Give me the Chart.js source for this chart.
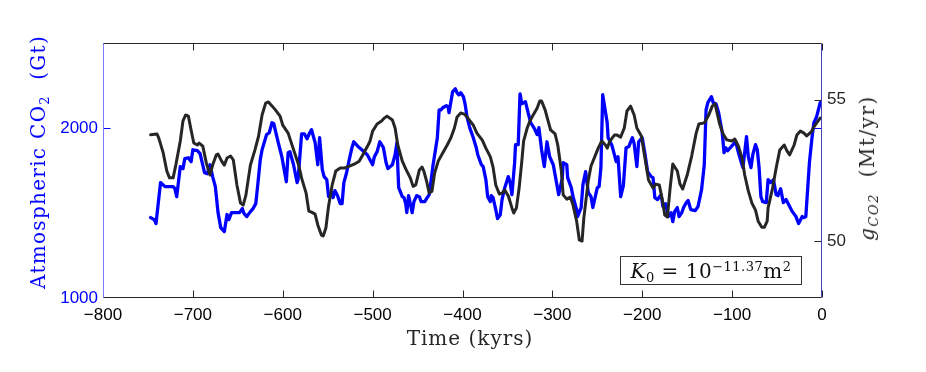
<!DOCTYPE html>
<html>
<head>
<meta charset="utf-8">
<script src="https://cdn.jsdelivr.net/npm/chart.js@4"></script>
<style>
  html, body { margin: 0; padding: 0; background: #fff; }
  #wrap { position: relative; width: 926px; height: 372px; }
  #chart { position: absolute; left: 0; top: 0; }
  .lbl {
    position: absolute;
    font-family: 'DejaVu Serif', 'Liberation Serif', serif;
    font-size: 20px;
    letter-spacing: 1px;
    white-space: nowrap;
    line-height: 1;
  }
  .lbl sub { font-size: 13px; vertical-align: -0.3em; line-height: 0; }
  .lbl sup { font-size: 13px; vertical-align: 0.55em; line-height: 0; }
  #ylab { color: #0000ff; left: 38px; top: 162px; transform: translate(-50%, -50%) rotate(-90deg); letter-spacing: 1.3px; }
  #y2lab { color: #262626; left: 867px; top: 168px; transform: translate(-50%, -50%) rotate(-90deg); letter-spacing: 1.5px; }
  #xlab { color: #262626; left: 470px; top: 338px; transform: translate(-50%, -50%); }
  #kbox {
    left: 620px; top: 256px; width: 182px; height: 29px;
    border: 1px solid #333; box-sizing: border-box;
    text-align: center; line-height: 29px;
    color: #111; letter-spacing: 0.5px;
  }
</style>
</head>
<body>
<div id="wrap">
  <canvas id="chart" width="926" height="372"></canvas>
  <div class="lbl" id="ylab">Atmospheric CO<sub>2</sub>&nbsp;&nbsp;(Gt)</div>
  <div class="lbl" id="y2lab"><i>g</i><sub><i>CO2</i></sub>&nbsp;&nbsp;(Mt/yr)</div>
  <div class="lbl" id="xlab">Time (kyrs)</div>
  <div class="lbl" id="kbox"><i>K</i><sub>0</sub> = 10<sup>&minus;11.37</sup>m<sup>2</sup></div>
</div>
<script>
/* Atmospheric CO2 (Gt) — blue, left axis. */
const timeCo2 = [
  -747, -743, -741, -736, -731, -722, -720, -718, -714, -711, -709, -705, -702, -700, -695, -692,
  -687, -684, -681, -678, -675, -672, -669, -665, -662, -660, -657, -648, -645, -643, -640, -636,
  -633, -630, -628, -625, -623, -618, -615, -612, -610, -605, -601, -596, -594, -592, -588, -584,
  -583, -579, -576, -573, -570, -568, -564, -561, -559, -556, -554, -551, -549, -545, -544, -542,
  -539, -536, -534, -532, -529, -526, -523, -521, -516, -512, -506, -503, -500, -498, -495, -492,
  -488, -485, -483, -478, -475, -473, -472, -471, -467, -465, -463, -462, -460, -456, -454, -451,
  -448, -446, -442, -440, -437, -433, -428, -426, -424, -422, -418, -416, -415, -411, -408, -406,
  -404, -402, -399, -397, -395, -392, -388, -385, -383, -379, -377, -374, -372, -369, -368, -366,
  -363, -361, -358, -356, -353, -349, -347, -345, -342, -341, -338, -336, -334, -330, -327, -324,
  -320, -317, -315, -312, -309, -306, -303, -299, -295, -293, -289, -288, -284, -283, -279, -277,
  -273, -272, -268, -266, -263, -260, -257, -255, -250, -248, -246, -244, -239, -238, -234, -231,
  -229, -227, -224, -221, -218, -215, -211, -209, -206, -204, -200, -197, -194, -190, -188, -186,
  -183, -179, -177, -174, -171, -168, -166, -164, -161, -159, -156, -154, -151, -149, -146, -141,
  -138, -134, -131, -129, -127, -123, -121, -118, -115, -111, -109, -107, -105, -101, -99, -96,
  -93, -90, -88, -84, -82, -79, -77, -74, -72, -70, -68, -66, -62, -60, -57, -54,
  -51, -49, -46, -43, -40, -37, -33, -29, -26, -22, -20, -18, -14, -11, -9, -6, -2,
];
const co2Gt = [
  1473, 1461, 1438, 1679, 1655, 1655, 1643, 1596, 1773, 1761, 1820, 1825, 1802, 1872, 1867, 1849,
  1737, 1731, 1784, 1714, 1655, 1502, 1414, 1391, 1491, 1461, 1502, 1502, 1526, 1496, 1479, 1508,
  1526, 1555, 1655, 1814, 1872, 1961, 1972, 2031, 2025, 1914, 1831, 1684, 1855, 1861, 1784, 1679,
  1696, 1966, 1966, 1937, 1972, 1990, 1914, 1784, 1943, 1755, 1714, 1696, 1596, 1620, 1590, 1632,
  1602, 1555, 1555, 1679, 1737, 1814, 1884, 1919, 1890, 1872, 1843, 1814, 1784, 1831, 1861, 1919,
  1884, 1796, 1761, 1784, 1843, 1914, 1773, 1649, 1596, 1590, 1549, 1502, 1602, 1502, 1567, 1602,
  1596, 1567, 1567, 1585, 1608, 1773, 1943, 2107, 2107, 2119, 2131, 2125, 2090, 2213, 2231, 2207,
  2195, 2207, 2184, 2137, 2066, 2002, 1943, 1890, 1843, 1784, 1773, 1696, 1596, 1567, 1602, 1590,
  1520, 1467, 1490, 1579, 1649, 1714, 1679, 1608, 1796, 1902, 1902, 2201, 2143, 2155, 2090, 2031,
  1996, 1961, 2002, 1872, 1773, 1919, 1831, 1784, 1667, 1608, 1702, 1796, 1784, 1708, 1649, 1596,
  1520, 1479, 1532, 1667, 1743, 1620, 1596, 1532, 1649, 1655, 1767, 2196, 2031, 1943, 1902, 1843,
  1802, 1831, 1596, 1661, 1884, 1890, 1943, 1908, 1773, 1919, 1943, 1849, 1743, 1714, 1708, 1590,
  1579, 1608, 1538, 1555, 1479, 1502, 1449, 1508, 1532, 1479, 1502, 1532, 1561, 1573, 1520, 1514,
  1538, 1637, 1784, 2107, 2149, 2184, 2149, 2143, 2090, 1972, 1855, 1884, 1866, 1890, 1902, 1919,
  1855, 1802, 1767, 1949, 1831, 1767, 1843, 1902, 1872, 1767, 1596, 1567, 1561, 1696, 1679, 1696,
  1608, 1602, 1643, 1561, 1579, 1549, 1508, 1479, 1438, 1479, 1473, 1479, 1796, 1949, 2031, 2066, 2149,
];

/* g_CO2 (Mt/yr) — dark grey, right axis. */
const timeG = [
  -747, -740, -738, -733, -729, -726, -722, -719, -714, -711, -708, -705, -702, -699, -695, -693,
  -689, -685, -681, -678, -674, -672, -668, -665, -662, -658, -655, -651, -647, -644, -641, -636,
  -631, -627, -623, -619, -616, -612, -608, -603, -600, -594, -590, -586, -582, -579, -574, -571,
  -568, -564, -561, -557, -555, -552, -549, -545, -541, -536, -531, -525, -520, -515, -511, -505,
  -503, -500, -495, -490, -487, -484, -478, -475, -472, -467, -463, -458, -455, -452, -448, -445,
  -443, -440, -437, -434, -431, -427, -422, -417, -413, -409, -406, -402, -398, -394, -388, -384,
  -378, -374, -369, -366, -363, -359, -356, -353, -349, -345, -343, -340, -337, -334, -332, -328,
  -325, -322, -317, -314, -312, -308, -305, -302, -297, -294, -290, -288, -284, -280, -277, -273,
  -270, -267, -265, -260, -257, -253, -249, -245, -241, -239, -236, -231, -228, -224, -220, -217,
  -213, -209, -206, -201, -197, -193, -188, -185, -181, -177, -175, -172, -169, -166, -161, -158,
  -155, -150, -145, -140, -137, -131, -126, -122, -119, -114, -110, -106, -100, -97, -93, -89,
  -86, -82, -78, -74, -71, -67, -64, -61, -60, -55, -51, -47, -42, -39, -36, -31,
  -28, -24, -20, -17, -12, -9, -6, -2,
];
const gCo2 = [
  53.76, 53.79, 53.65, 53.12, 52.48, 52.24, 52.24, 52.69, 53.54, 54.25, 54.46, 54.42, 53.93, 53.47, 53.40, 53.47,
  53.36, 52.76, 52.34, 52.69, 53.05, 53.08, 52.83, 52.69, 52.94, 53.01, 52.87, 51.99, 51.35, 51.28, 51.63, 52.69,
  53.22, 53.70, 54.46, 54.88, 54.92, 54.78, 54.63, 54.42, 54.10, 53.82, 53.43, 53.05, 52.66, 52.23, 51.70, 51.07,
  51.03, 50.96, 50.58, 50.22, 50.19, 50.47, 51.25, 51.99, 52.48, 52.59, 52.59, 52.66, 52.73, 52.83, 53.05, 53.40,
  53.53, 53.89, 54.14, 54.25, 54.35, 54.42, 54.28, 54.00, 53.40, 52.83, 52.55, 52.23, 51.94, 51.99, 52.52, 52.62,
  52.48, 52.13, 51.70, 51.77, 52.41, 52.83, 53.12, 53.40, 53.65, 54.00, 54.39, 54.53, 54.49, 54.35, 54.10, 53.82,
  53.57, 53.29, 52.98, 52.62, 51.99, 51.67, 51.70, 51.81, 51.60, 51.18, 51.00, 51.18, 51.88, 52.83, 53.54, 54.00,
  54.25, 54.42, 54.70, 54.95, 54.95, 54.63, 54.28, 53.93, 53.79, 53.40, 52.48, 51.64, 51.49, 51.56, 51.28, 50.71,
  50.05, 50.01, 50.82, 52.16, 52.66, 52.97, 53.29, 53.54, 53.40, 53.29, 53.54, 53.75, 53.75, 53.68, 54.00, 54.60,
  54.77, 54.46, 54.00, 53.72, 52.94, 52.16, 51.88, 52.02, 51.99, 51.35, 50.93, 50.86, 51.88, 52.73, 52.48, 52.02,
  51.85, 52.34, 53.01, 53.82, 54.14, 54.18, 54.46, 54.78, 54.85, 54.15, 53.79, 53.58, 53.54, 53.61, 53.36, 52.94,
  52.34, 51.78, 51.35, 51.10, 50.71, 50.50, 50.50, 50.71, 51.18, 51.88, 52.59, 53.22, 53.40, 53.19, 53.05, 53.40,
  53.75, 53.89, 53.82, 53.72, 53.86, 54.04, 54.18, 54.35,
];

/* Axis ranges and the ticks that carry labels. */
const timeRange = [-800, 0];
const co2Range = [1000, 2500];
const gRange = [48, 57];
const timeTicks = [-800, -700, -600, -500, -400, -300, -200, -100, 0];
const co2Ticks = [1000, 2000];
const gTicks = [50, 55];

const BLUE = '#0000ff';
const INK = '#262626';
const TICK_FONT = { family: "'Liberation Sans', Arial, sans-serif", size: 17 };

const pairs = (xs, ys) => xs.map((x, i) => ({ x, y: ys[i] }));
const keepTicks = (values) => (scale) => {
  scale.ticks = values.map((value) => ({ value }));
};
/* Plain numbers, no thousands separator, real minus sign. */
const plain = (v) => String(v).replace('-', '\u2212');

/* MATLAB-style frame: inward ticks, mirrored on the far side, coloured edges. */
const framePlugin = {
  id: 'frame',
  afterDraw(chart) {
    const { ctx, chartArea: a, scales } = chart;
    const L = Math.round(a.left) + 0.5;
    const R = Math.round(a.right) - 0.5;
    const T = Math.round(a.top) + 0.5;
    const B = Math.round(a.bottom) - 0.5;
    const len = 7;
    const seg = (x1, y1, x2, y2, color) => {
      ctx.strokeStyle = color;
      ctx.beginPath();
      ctx.moveTo(x1, y1);
      ctx.lineTo(x2, y2);
      ctx.stroke();
    };
    ctx.save();
    ctx.lineWidth = 1;
    timeTicks.forEach((v) => {
      const px = Math.round(scales.x.getPixelForValue(v)) + 0.5;
      seg(px, B, px, B - len, INK);
      seg(px, T, px, T + len, INK);
    });
    co2Ticks.forEach((v) => {
      const py = Math.round(scales.y.getPixelForValue(v)) + 0.5;
      if (py > B - 1) return; /* the 1000 tick sits on the bottom edge */
      seg(L, py, L + len, py, BLUE);
      seg(R, py, R - len, py, BLUE);
    });
    gTicks.forEach((v) => {
      const py = Math.round(scales.y2.getPixelForValue(v)) + 0.5;
      seg(R, py, R - len, py, INK);
    });
    seg(L, T, R, T, INK);
    seg(L, B, R, B, INK);
    seg(L, T, L, B, '#7a7aff');
    seg(R, T, R, B, '#4444b8');
    ctx.restore();
  },
};

new Chart(document.getElementById('chart'), {
  type: 'line',
  data: {
    datasets: [
      {
        label: 'g_CO2',
        data: pairs(timeG, gCo2),
        yAxisID: 'y2',
        borderColor: INK,
        borderWidth: 3,
        order: 0,
      },
      {
        label: 'Atmospheric CO2',
        data: pairs(timeCo2, co2Gt),
        yAxisID: 'y',
        borderColor: BLUE,
        borderWidth: 3.3,
        order: 1,
      },
    ],
  },
  options: {
    responsive: false,
    devicePixelRatio: 1,
    animation: false,
    layout: { padding: { top: 43, left: 0, right: 0, bottom: 0 } },
    elements: {
      point: { radius: 0 },
      line: { tension: 0, borderJoinStyle: 'round', borderCapStyle: 'round' },
    },
    plugins: { legend: { display: false }, tooltip: { enabled: false } },
    scales: {
      x: {
        type: 'linear',
        position: 'bottom',
        min: timeRange[0],
        max: timeRange[1],
        afterBuildTicks: keepTicks(timeTicks),
        afterFit: (s) => { s.height = 74; },
        grid: { display: false, drawTicks: false },
        border: { display: false },
        ticks: { color: '#000', font: TICK_FONT, padding: 7, maxRotation: 0, autoSkip: false, callback: plain },
      },
      y: {
        type: 'linear',
        position: 'left',
        min: co2Range[0],
        max: co2Range[1],
        afterBuildTicks: keepTicks(co2Ticks),
        afterFit: (s) => { s.width = 103; },
        grid: { display: false, drawTicks: false },
        border: { display: false },
        ticks: { color: BLUE, font: TICK_FONT, padding: 5, callback: plain },
      },
      y2: {
        type: 'linear',
        position: 'right',
        min: gRange[0],
        max: gRange[1],
        afterBuildTicks: keepTicks(gTicks),
        afterFit: (s) => { s.width = 104; },
        grid: { display: false, drawTicks: false },
        border: { display: false },
        ticks: { color: INK, font: TICK_FONT, padding: 5, callback: plain },
      },
    },
  },
  plugins: [framePlugin],
});
</script>
</body>
</html>
